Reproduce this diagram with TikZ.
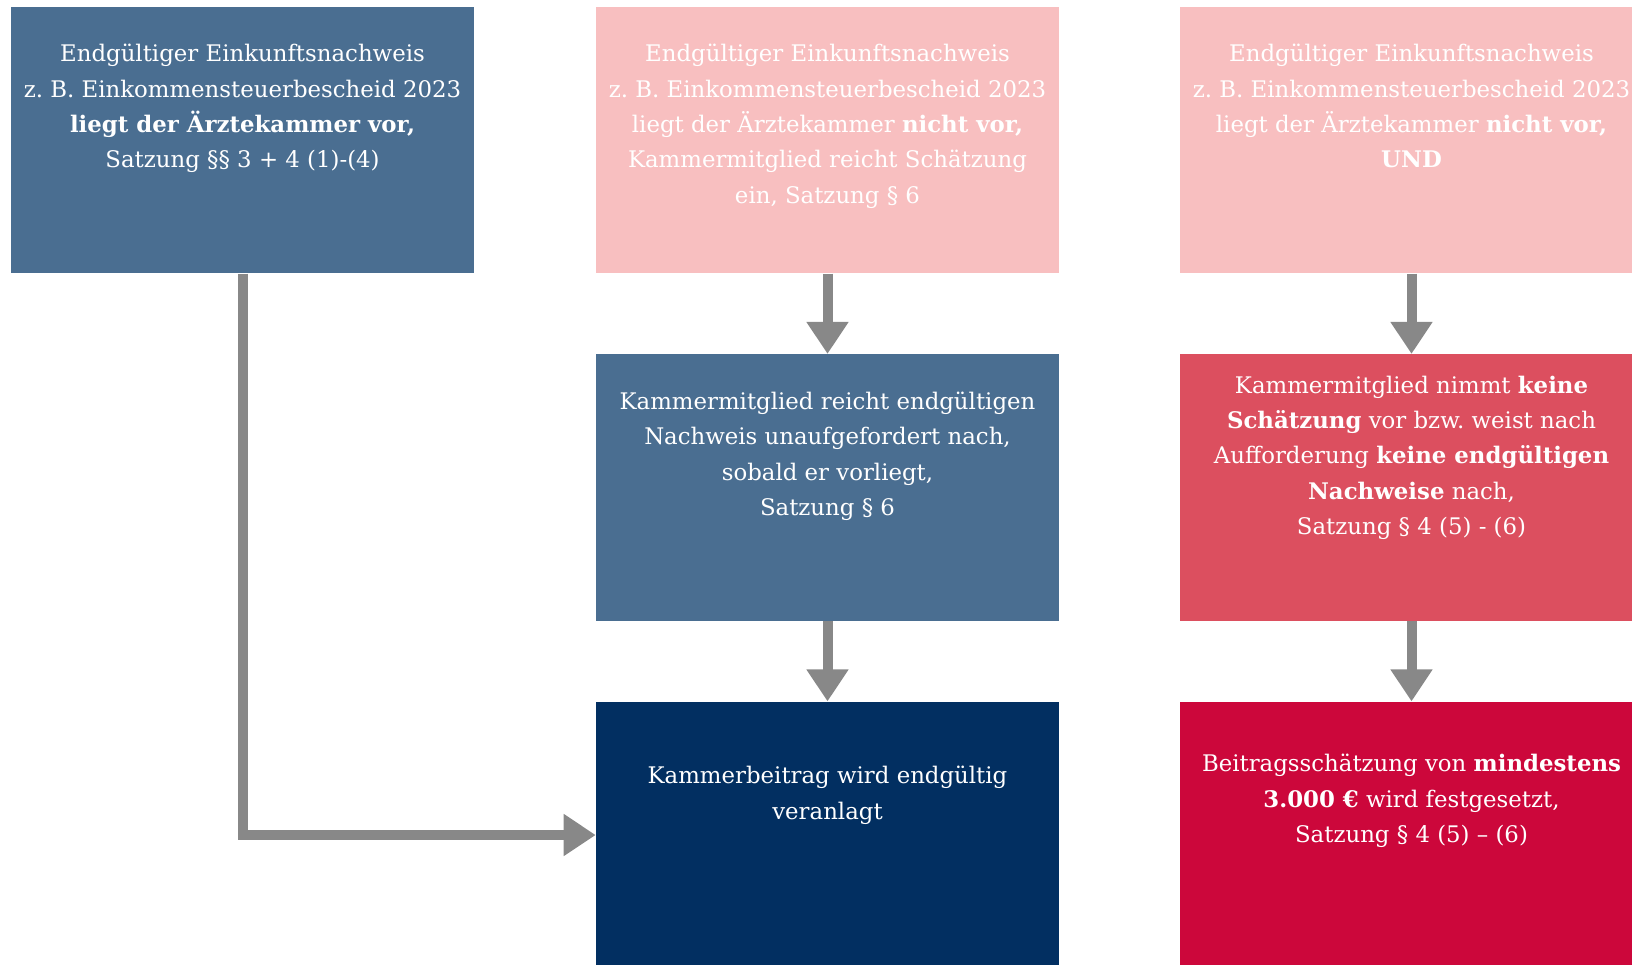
\documentclass[tikz,border=0pt]{standalone}
\usepackage{fontspec}
\setmainfont{DejaVu Serif}
\usetikzlibrary{positioning,arrows.meta}
\definecolor{steel}{HTML}{4A6E91}
\definecolor{rose}{HTML}{F8BFC0}
\definecolor{navy}{HTML}{022F61}
\definecolor{coral}{HTML}{DC4F5F}
\definecolor{crimson}{HTML}{CC073B}
\definecolor{flowgray}{HTML}{888888}
\frenchspacing
\begin{document}
\begin{tikzpicture}[x=0.02cm,y=-0.02cm,
  box/.style={minimum width=9.26cm,minimum height=5.33cm,inner sep=0pt},
  txt/.style={text=white,align=center,inner sep=0pt,font=\fontsize{13}{20.15}\selectfont},
  flow/.style={draw=flowgray,line width=0.2cm,-{Triangle[width=0.8cm,length=0.64cm]}}]
\useasboundingbox (0,0) rectangle (1632,964);
% boxes
\node[box,fill=steel] (a1) at (242.5,140) {};
\node[box,fill=rose] (a2) at (827.5,140) {};
\node[box,fill=rose] (a3) at (1411.5,140) {};
\node[box,fill=steel] (b2) at (827.5,487.5) {};
\node[box,fill=coral] (b3) at (1411.5,487.5) {};
\node[box,fill=navy] (c2) at (827.5,835) {};
\node[box,fill=crimson] (c3) at (1411.5,835) {};
% texts
\node[txt,below=0.75cm of a1.north] (t1) {Endgültiger Einkunftsnachweis\\z.~B. Einkommensteuerbescheid 2023\\\textbf{liegt der Ärztekammer vor,}\\Satzung §§ 3 + 4 (1)-(4)};
\node[txt,below=0.75cm of a2.north] (t2) {Endgültiger Einkunftsnachweis\\z.~B. Einkommensteuerbescheid 2023\\liegt der Ärztekammer \textbf{nicht vor,}\\Kammermitglied reicht Schätzung\\ein, Satzung § 6};
\node[txt,below=0.75cm of a3.north] (t3) {Endgültiger Einkunftsnachweis\\z.~B. Einkommensteuerbescheid 2023\\liegt der Ärztekammer \textbf{nicht vor,}\\\textbf{UND}};
\node[txt,below=0.75cm of b2.north] (t4) {Kammermitglied reicht endgültigen\\Nachweis unaufgefordert nach,\\sobald er vorliegt,\\Satzung § 6};
\node[txt,below=0.43cm of b3.north] (t5) {Kammermitglied nimmt \textbf{keine}\\\textbf{Schätzung} vor bzw. weist nach\\Aufforderung \textbf{keine endgültigen}\\\textbf{Nachweise} nach,\\Satzung § 4 (5) - (6)};
\node[txt,below=1.29cm of c2.north] (t6) {Kammerbeitrag wird endgültig\\veranlagt};
\node[txt,below=1.05cm of c3.north] (t7) {Beitragsschätzung von \textbf{mindestens}\\\textbf{3.000 €} wird festgesetzt,\\Satzung § 4 (5) – (6)};
% arrows
\draw[flow] (a1.south) |- (c2.west);
\draw[flow] (a2) -- (b2);
\draw[flow] (b2) -- (c2);
\draw[flow] (a3) -- (b3);
\draw[flow] (b3) -- (c3);
\end{tikzpicture}
\end{document}
